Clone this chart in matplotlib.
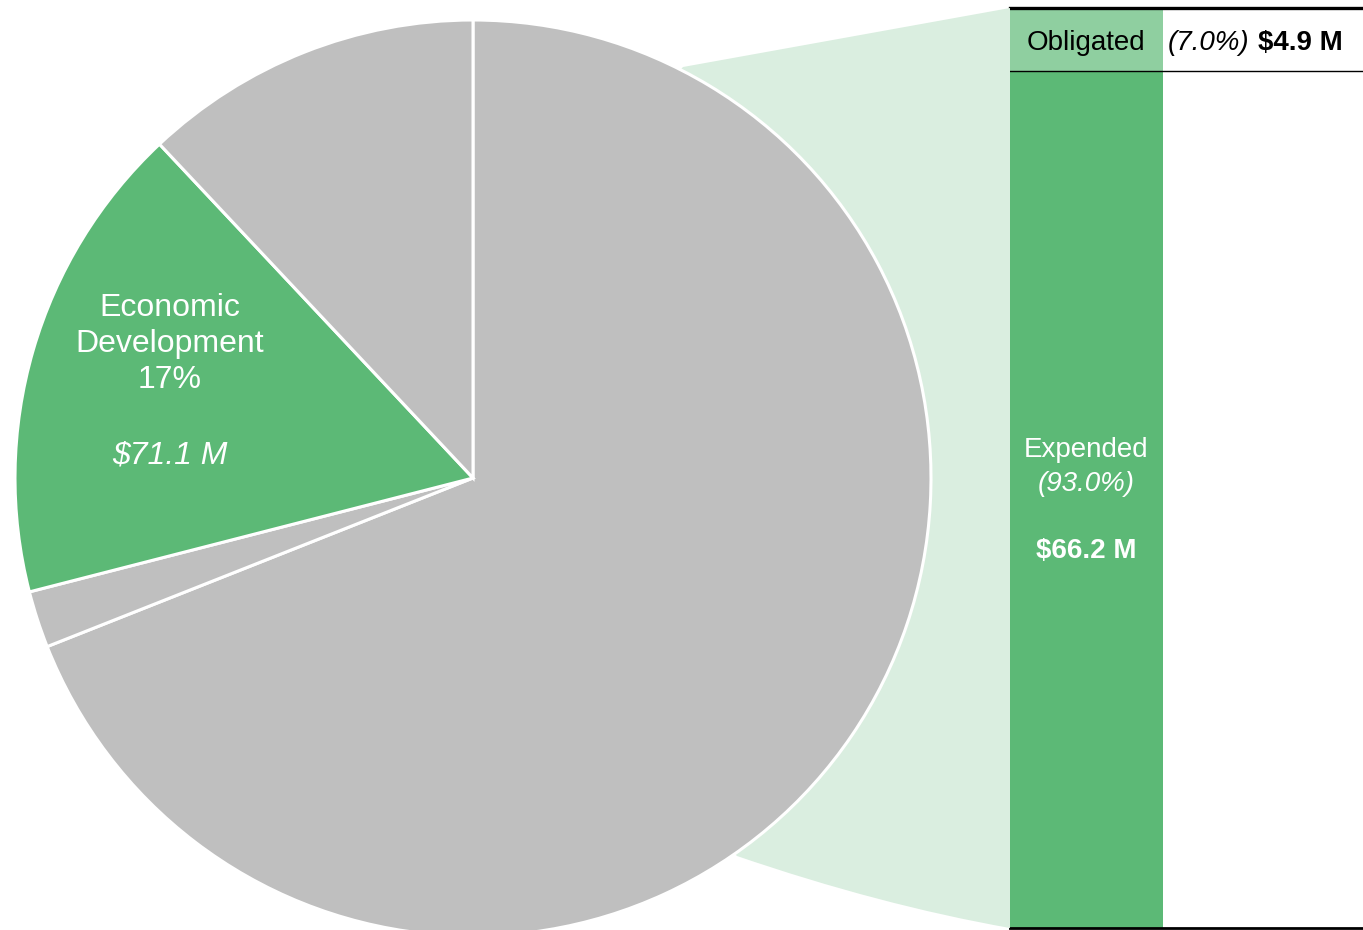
import matplotlib
matplotlib.use("Agg")
import matplotlib.pyplot as plt
from matplotlib.patches import PathPatch
from matplotlib.path import Path

plt.rcParams['font.family'] = ['Liberation Sans', 'DejaVu Sans']

# ---- data ----
slice_names = ["Other A", "Other B", "Economic Development", "Other C"]
slice_shares = [69.0, 2.0, 17.0, 12.0]          # percent of total
slice_colors = ["#bfbfbf", "#bfbfbf", "#5cb976", "#bfbfbf"]
econ_amount = 71.1                               # $ M
status_labels = ["Expended", "Obligated"]
status_amounts = [66.2, 4.9]                     # $ M
status_pcts = [93.0, 7.0]
status_colors = ["#5cb976", "#8fcfa0"]

W, H = 1363, 930
fig = plt.figure(figsize=(W / 100, H / 100), dpi=100)

# ---- stacked bar (drawn first, underneath) ----
bx0, bx1, by0, by1 = 1010, 1363, 8, 928
bax = fig.add_axes([bx0 / W, (H - by1) / H, (bx1 - bx0) / W, (by1 - by0) / H])
bar_w_frac = (1163 - bx0) / (bx1 - bx0)
total = sum(status_amounts)
bottom = 0
for lab, amt, col in zip(status_labels, status_amounts, status_colors):
    bax.bar(0, amt, bottom=bottom, width=1, align="edge", color=col, edgecolor="none")
    bottom += amt
bax.set_xlim(0, 1 / bar_w_frac)
bax.set_ylim(0, total)
bax.axis("off")
bax.axhline(total, color="black", lw=2.4, clip_on=False)
bax.axhline(status_amounts[0], color="black", lw=1.0, clip_on=False, xmin=-0.005)
bax.axhline(0, color="black", lw=2.0, clip_on=False, xmin=0.0)
bax.set_zorder(0)

ax = fig.add_axes([0, 0, 1, 1])
ax.set_zorder(1)
ax.patch.set_visible(False)

def py(y):  # pixel-from-top to data y
    return H - y

cx, cy, R = 473, py(478), 458

# connector fill behind pie
verts = [(cx, py(300)), (683, py(67)), (1010, py(8)), (1010, py(928)),
         (880, py(905)), (737, py(856)), (cx, py(600)), (cx, py(300))]
codes = [Path.MOVETO, Path.LINETO, Path.LINETO, Path.LINETO,
         Path.CURVE3, Path.CURVE3, Path.LINETO, Path.CLOSEPOLY]
ax.add_patch(PathPatch(Path(verts, codes), facecolor="#daeee0", edgecolor="none", zorder=0))

wedges, _ = ax.pie(slice_shares, colors=slice_colors, startangle=90, counterclock=False,
                   center=(cx, cy), radius=R,
                   wedgeprops=dict(edgecolor="white", linewidth=2.2), frame=True)
for w in wedges:
    w.set_zorder(2)

ax.set_xlim(0, W)
ax.set_ylim(0, H)
ax.set_aspect("auto")
ax.axis("off")

econ_idx = slice_names.index("Economic Development")
ax.text(170, py(344), f"Economic\nDevelopment\n{slice_shares[econ_idx]:.0f}%", color="white",
        fontsize=23, ha="center", va="center", linespacing=1.24, zorder=5)
ax.text(170, py(455), f"${econ_amount:.1f} M", color="white", fontsize=23,
        style="italic", ha="center", va="center", zorder=5)

fs = 20
ax.text(1086, py(450), status_labels[0], color="white", fontsize=fs, ha="center", va="center", zorder=5)
ax.text(1086, py(484), f"({status_pcts[0]:.1f}%)", color="white", fontsize=fs, style="italic",
        ha="center", va="center", zorder=5)
ax.text(1086, py(551), f"${status_amounts[0]:.1f} M", color="white", fontsize=fs, weight="bold",
        ha="center", va="center", zorder=5)
ax.text(1086, py(43), status_labels[1], color="black", fontsize=fs, ha="center", va="center", zorder=5)
ax.text(1168, py(43), f"({status_pcts[1]:.1f}%)", color="black", fontsize=fs, style="italic",
        ha="left", va="center", zorder=5)
ax.text(1258, py(43), f"${status_amounts[1]:.1f} M", color="black", fontsize=fs, weight="bold",
        ha="left", va="center", zorder=5)

fig.savefig("out.png", dpi=100, facecolor="white")
